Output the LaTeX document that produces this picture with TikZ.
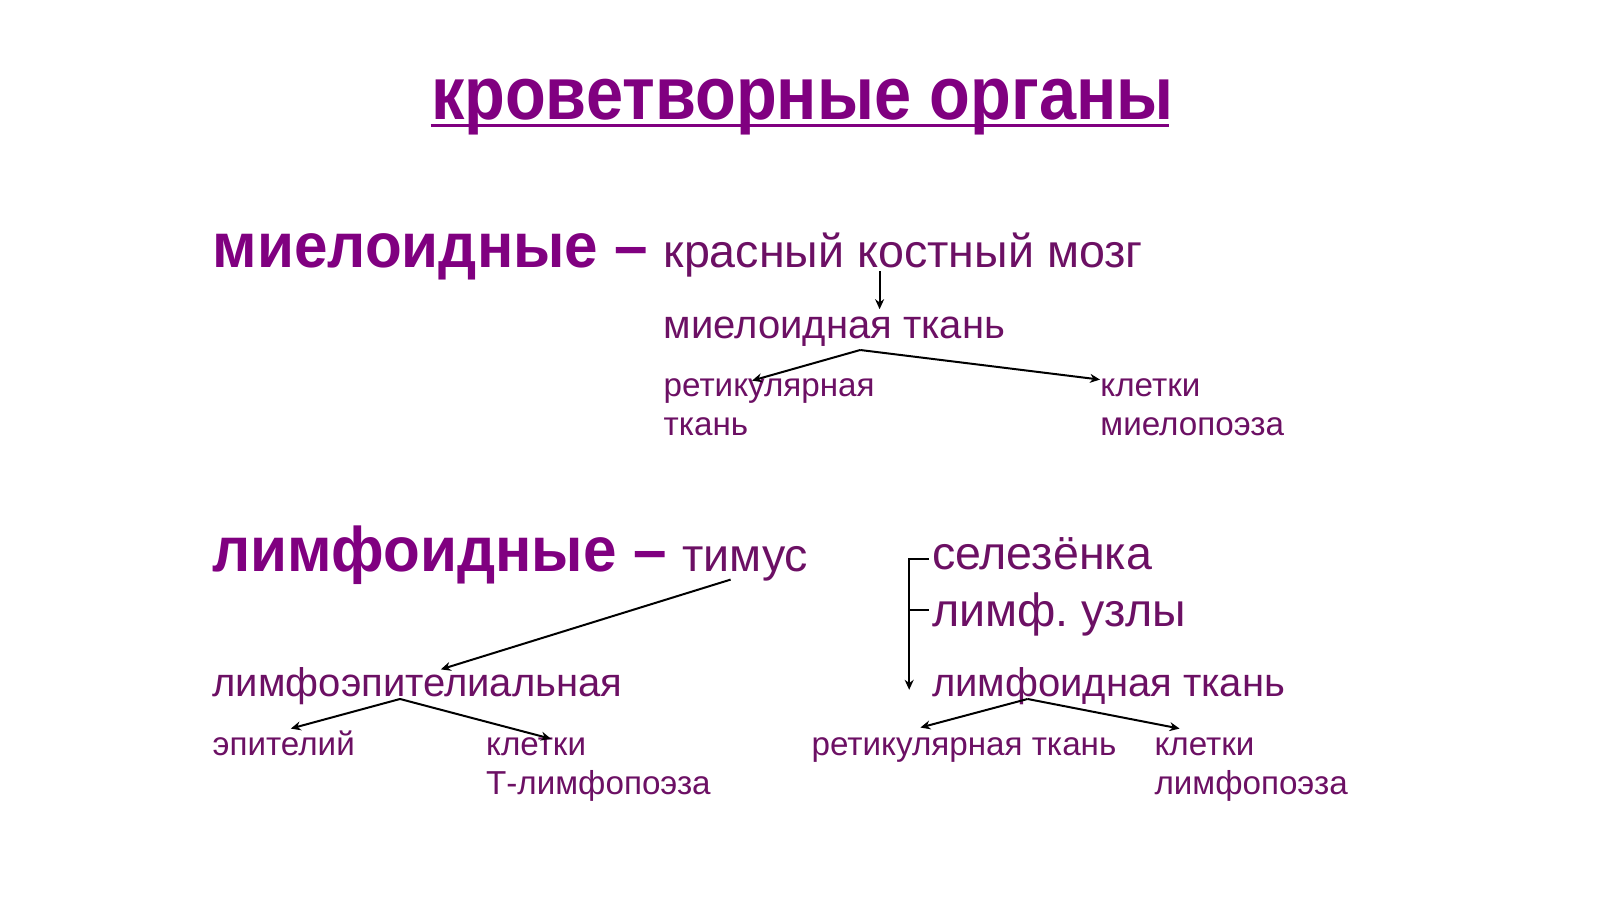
\documentclass[tikz,border=0pt]{standalone}
\usepackage{fontspec}
\setmainfont{Liberation Sans}
\usetikzlibrary{arrows.meta}
\definecolor{orgpurple}{RGB}{128,0,128}
\definecolor{txtpurple}{RGB}{108,16,100}
\tikzset{big/.style = {anchor=base west, inner sep=0pt, text=orgpurple,
                       font=\fontsize{31.5}{38}\selectfont\bfseries},
         body/.style = {anchor=base west, inner sep=0pt, text=txtpurple,
                        font=\fontsize{23.3}{28}\selectfont},
         mid/.style = {body, font=\fontsize{20}{24}\selectfont},
         small/.style = {anchor=base west, inner sep=0pt, text=txtpurple,
                         font=\fontsize{16.6}{20}\selectfont},
         link/.style = {-{Stealth[length=5pt,width=4.5pt]}, line width=1pt}}

\begin{document}
\begin{tikzpicture}[x=0.5102pt, y=-0.5102pt]
        \useasboundingbox (0,0) rectangle (1568,881);
        % title
        \node[big, font=\fontsize{37.5}{44}\selectfont\bfseries] (title) at (422,117)
            {\scalebox{0.89}[1]{кроветворные органы}};
        \draw[orgpurple, line width=1.5pt] (title.base west) ++(0,6) -- ++(724,0);
        % myeloid
        \node[big] (myel) at (208,262) {\scalebox{0.955}[1]{миелоидные –}};
        \node[body] (kbm) at (650,262) {красный костный мозг};
        \node[mid] (mtk) at (650,332) {миелоидная ткань};
        \node[small] (ret1) at (650,389) {ретикулярная};
        \node[small] (ret2) at (650,427) {ткань};
        \node[small] (kmp1) at (1078,389) {клетки};
        \node[small] (kmp2) at (1078,427) {миелопоэза};
        \coordinate (kbm-out) at (862,266);
        \coordinate (mtk-in) at (862,303);
        \coordinate (mtk-fork) at (843,343);
        \coordinate (ret-in) at (737,373);
        \coordinate (kmp-in) at (1078,372);
        \draw[link] (kbm-out) -- (mtk-in);
        \draw[link] (mtk-fork) -- (ret-in);
        \draw[link] (mtk-fork) -- (kmp-in);
        % lymphoid
        \node[big] (lymph) at (208,560) {\scalebox{0.955}[1]{лимфоидные –}};
        \node[body] (tim) at (668,560) {тимус};
        \node[body] (sel) at (913,558) {селезёнка};
        \node[body] (uzl) at (913,614) {лимф.\ узлы};
        \node[mid] (ltk) at (913,683) {лимфоидная ткань};
        \node[mid] (lep) at (208,683) {лимфоэпителиальная};
        \node[small] (epi) at (208,740) {эпителий};
        \node[small] (ktl1) at (476,740) {клетки};
        \node[small] (ktl2) at (476,779) {Т-лимфопоэза};
        \node[small] (rtk) at (795,740) {ретикулярная ткань};
        \node[small] (klp1) at (1131,740) {клетки};
        \node[small] (klp2) at (1131,779) {лимфопоэза};
        \coordinate (tim-out) at (716,568);
        \coordinate (lep-in) at (432,656);
        \coordinate (lep-fork) at (392,685);
        \coordinate (epi-in) at (285,714);
        \coordinate (ktl-in) at (540,724);
        \coordinate (sel-tick) at (910,548);
        \coordinate (uzl-tick) at (910,598);
        \coordinate (ltk-in) at (891,676);
        \coordinate (ltk-fork) at (1007,685);
        \coordinate (rtk-in) at (902,713);
        \coordinate (klp-in) at (1156,714);
        \draw[link] (tim-out) -- (lep-in);
        \draw[link] (lep-fork) -- (epi-in);
        \draw[link] (lep-fork) -- (ktl-in);
        \draw[link] (sel-tick) -| (ltk-in);
        \draw[line width=1pt] (uzl-tick) -- (uzl-tick -| ltk-in);
        \draw[link] (ltk-fork) -- (rtk-in);
        \draw[link] (ltk-fork) -- (klp-in);
    \end{tikzpicture}
\end{document}
